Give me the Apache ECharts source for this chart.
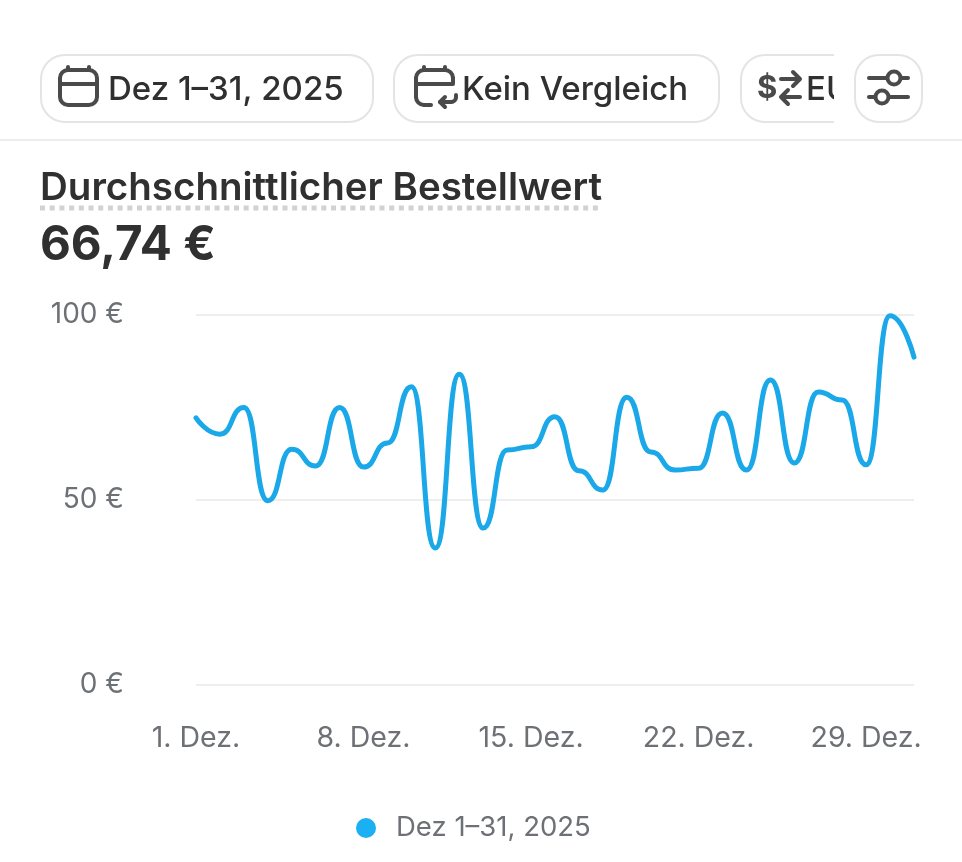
<!DOCTYPE html>
<html><head><meta charset="utf-8">
<style>html,body{margin:0;padding:0;background:#fff}#c{width:962px;height:862px}</style>
<script src="https://cdn.jsdelivr.net/npm/echarts@6/dist/echarts.min.js"></script>
</head><body><div id="c"></div>
<script>
const days = ['1. Dez.','2. Dez.','3. Dez.','4. Dez.','5. Dez.','6. Dez.','7. Dez.','8. Dez.','9. Dez.','10. Dez.','11. Dez.','12. Dez.','13. Dez.','14. Dez.','15. Dez.','16. Dez.','17. Dez.','18. Dez.','19. Dez.','20. Dez.','21. Dez.','22. Dez.','23. Dez.','24. Dez.','25. Dez.','26. Dez.','27. Dez.','28. Dez.','29. Dez.','30. Dez.','31. Dez.'];
const values = [72.2,67.8,75,49.8,63.7,59.2,75,58.9,65.4,80.6,37,84,42.4,63.5,64.4,72.5,57.9,52.7,77.8,63,58.1,58.6,73.5,58.1,82.4,60,79.2,77,59.5,99.8,88.6];
const seriesName = 'Dez 1–31, 2025';
const chipLabels = ['Dez 1–31, 2025','Kein Vergleich','EUR'];
const metricTitle = 'Durchschnittlicher Bestellwert';
const metricValue = '66,74 €';

const ink='#303030', iconInk='#4a4a4a', edge='#e4e4e4';
const chip=(x,y,w,h)=>({type:'rect',shape:{x,y,width:w,height:h,r:24},style:{fill:'#fff',stroke:edge,lineWidth:2}});
const txt=(x,y,t,size,weight,fill)=>({type:'text',x,y,style:{text:t,fill:fill||ink,font:`${weight} ${size}px Inter, "Noto Sans", sans-serif`,textVerticalAlign:'middle',textBaseline:'middle'}});
const sk={fill:'none',stroke:iconInk,lineWidth:4,lineCap:'round',lineJoin:'round'};
const pl=(pts)=>({type:'polyline',shape:{points:pts},style:sk});
const arc=(cx,cy,r,a,b)=>({type:'arc',shape:{cx,cy,r,startAngle:a,endAngle:b,clockwise:true},style:sk});
const PI=Math.PI;

const graphic=[
  chip(41,55,332,67), chip(394,55,325,67), chip(741,55,130,67),
  txt(806,90,chipLabels[2],33,500),
  {type:'rect',shape:{x:834,y:50,width:40,height:76},style:{fill:'#fff'}},
  chip(855,55,67,67),
  {type:'line',shape:{x1:0,y1:140,x2:962,y2:140},style:{stroke:'#ececec',lineWidth:2}},
  // calendar
  {type:'rect',shape:{x:60,y:70,width:37,height:35,r:8},style:sk},
  pl([[60,84],[97,84]]), pl([[68,67],[68,70]]), pl([[89,67],[89,70]]),
  // calendar compare
  pl([[431,105],[424,105]]), arc(424,97,8,PI/2,PI),
  pl([[416,97],[416,78]]), arc(424,78,8,PI,1.5*PI),
  pl([[424,70],[445,70]]), arc(445,78,8,1.5*PI,2*PI),
  pl([[453,78],[453,84],[416,84]]), pl([[424,67],[424,70]]), pl([[445,67],[445,70]]),
  pl([[456,95],[456,97]]), arc(451,97,5,0,PI/2), pl([[451,102],[440,102]]), pl([[445,97],[440,102],[445,107]]),
  // currency swap
  {type:'text',x:757,y:89,style:{text:'$',fill:iconInk,font:'700 31px Inter, sans-serif',textVerticalAlign:'middle',textBaseline:'middle'}},
  pl([[781,79],[799,79]]), pl([[793,72],[800,79],[793,86]]),
  pl([[800,97],[782,97]]), pl([[788,90],[781,97],[788,104]]),
  // filter sliders
  pl([[869,78],[887,78]]), pl([[901,78],[908,78]]), pl([[869,97],[875,97]]), pl([[889,97],[908,97]]),
  {type:'circle',shape:{cx:894,cy:78,r:6.5},style:{fill:'#fff',stroke:iconInk,lineWidth:4}},
  {type:'circle',shape:{cx:882,cy:97,r:6.5},style:{fill:'#fff',stroke:iconInk,lineWidth:4}},
  txt(108,90,chipLabels[0],33,500),
  txt(462,90,chipLabels[1],33,500),
  txt(40,188,metricTitle,38.5,600),
  {type:'line',shape:{x1:40,y1:208,x2:602,y2:208},style:{stroke:'#d2d2d2',lineWidth:5,lineDash:[5,4.7]}},
  txt(40,246,metricValue,47.5,700)
];

const chart=echarts.init(document.getElementById('c'),null,{renderer:'canvas'});
chart.setOption({
  animation:false,
  backgroundColor:'#fff',
  graphic:{elements:graphic},
  grid:{left:196,right:48,top:315,bottom:177,containLabel:false},
  legend:{show:true,left:356,top:814,padding:0,itemWidth:20,itemHeight:20,itemGap:20,icon:'circle',
    data:[seriesName],textStyle:{fontFamily:'Inter',fontSize:27.5,color:'#6d7175',padding:[0,0,0,15]}},
  xAxis:{type:'category',data:days,boundaryGap:false,axisLine:{show:false},axisTick:{show:false},splitLine:{show:false},
    axisLabel:{interval:6,margin:39,fontFamily:'Inter',fontSize:28.5,color:'#6d7175',hideOverlap:false}},
  yAxis:{type:'value',min:0,max:100,interval:50,axisLine:{show:false},axisTick:{show:false},
    splitLine:{lineStyle:{color:'#eeeeee',width:2}},
    axisLabel:{margin:72,fontFamily:'Inter',fontSize:28,color:'#6d7175',formatter:v=>v+' €'}},
  series:[{name:seriesName,type:'line',data:values,smooth:0.55,smoothMonotone:'x',symbol:'none',
    itemStyle:{color:'#1bb0f2'},lineStyle:{color:'#1aa8e8',width:5,cap:'round'}}]
});
</script></body></html>
